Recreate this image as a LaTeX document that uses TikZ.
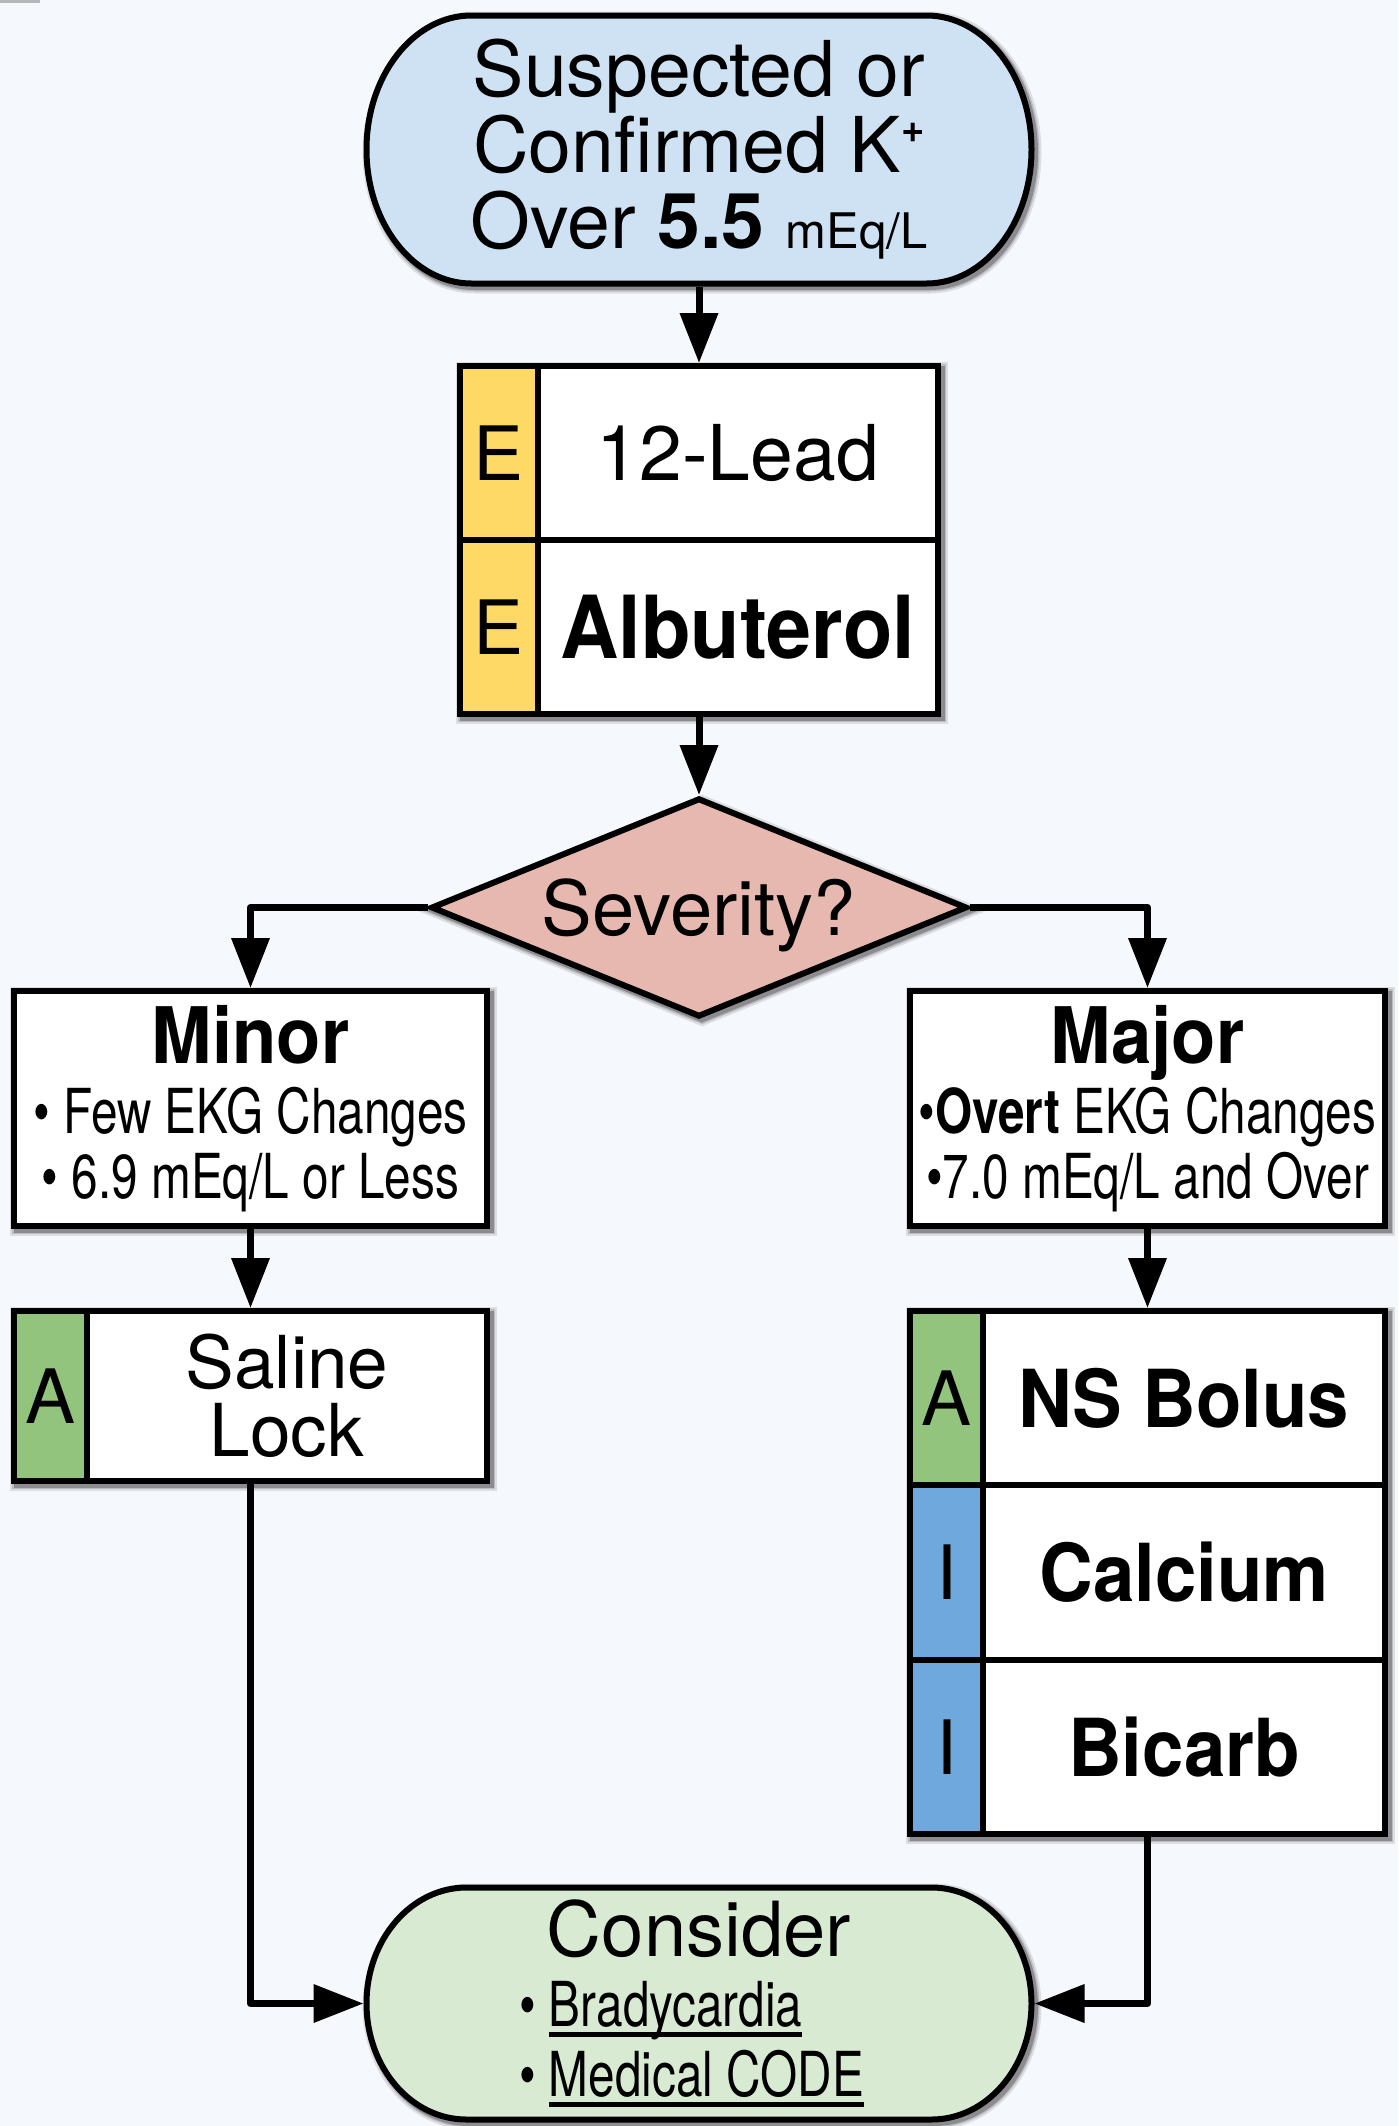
\documentclass[tikz,border=0pt]{standalone}
\usepackage{fontspec}
\setmainfont{TeX Gyre Heros}
\newfontfamily\condfont[FakeStretch=0.77]{TeX Gyre Heros}
\newfontfamily\semifont[FakeStretch=0.93]{TeX Gyre Heros}
\usetikzlibrary{shapes.geometric,arrows.meta,calc,shadows}

\definecolor{pagebg}{HTML}{F5F8FD}
\definecolor{startblue}{HTML}{CFE2F3}
\definecolor{tagyellow}{HTML}{FFD966}
\definecolor{tagblue}{HTML}{6FA8DC}
\definecolor{taggreen}{HTML}{93C47D}
\definecolor{decisionred}{HTML}{E6B8AF}
\definecolor{endgreen}{HTML}{D9EAD3}

% underline sitting just under the baseline
\newcommand\undl[1]{\setbox0\hbox{#1}\rlap{\rule[-11pt]{\wd0}{5pt}}\box0}
\newcommand\lst{\condfont\fontsize{62}{68}\selectfont}

\tikzset{
  softshadow/.style={
    general shadow={draw=black, line width=14pt, opacity=0.10, shadow xshift=3pt, shadow yshift=-3pt},
    general shadow={draw=black, line width=10pt, opacity=0.15, shadow xshift=3pt, shadow yshift=-3pt},
    general shadow={draw=black, line width=7pt, opacity=0.25, shadow xshift=3pt, shadow yshift=-3pt}},
  box/.style={draw, line width=6pt, inner sep=0pt, outer sep=3pt},
  tagcell/.style={box, minimum width=73pt, font=\fontsize{75}{75}\selectfont},
  txtcell/.style={box, minimum width=400pt},
  boldtxt/.style={font=\semifont\bfseries\fontsize{80}{80}\selectfont},
  link/.style={line width=7pt, line join=round, -{Triangle[length=50pt,width=37pt]}},
  termnode/.style={inner sep=0pt, outer sep=3pt, align=center},
  termline/.style={draw, line width=6pt, softshadow},
}

\begin{document}
\begin{tikzpicture}[x=1pt, y=-1pt]
\useasboundingbox (0,0) rectangle (1398,2126);
\fill[pagebg] (0,0) rectangle (1398,2126);
\fill[black!45, opacity=0.6] (0,0) rectangle (40,3);

% ---- start terminal: outline with elliptic ends, then its text node
\path[termline, fill=startblue]
  (471.5,15.5) -- (926.5,15.5)
  arc[start angle=90, end angle=-90, x radius=105pt, y radius=134pt]
  -- (471.5,283.5)
  arc[start angle=270, end angle=90, x radius=105pt, y radius=134pt] -- cycle;
\node[termnode, minimum width=665pt, minimum height=268pt,
      font=\fontsize{77}{76}\selectfont] (start) at (699,149.5)
  {Suspected or\\Confirmed K\raisebox{30pt}{\fontsize{40}{40}\selectfont\bfseries +}\\
   Over \textbf{5.5} {\fontsize{49}{49}\selectfont mEq/L}};

% ---- EMT block
\node[box, fill=white, softshadow, minimum width=478pt, minimum height=348pt] (ebox) at (699,540) {};
\node[tagcell, fill=tagyellow, minimum width=77.5pt, minimum height=174pt] (e1tag) at (498.75,453) {E};
\node[txtcell, minimum width=400.5pt, minimum height=174pt, font=\fontsize{77}{77}\selectfont] (e1txt) at (737.75,453) {12-Lead};
\node[tagcell, fill=tagyellow, minimum width=77.5pt, minimum height=174pt] (e2tag) at (498.75,627) {E};
\node[txtcell, minimum width=400.5pt, minimum height=174pt, font=\semifont\bfseries\fontsize{87}{87}\selectfont] (e2txt) at (737.75,627) {Albuterol};

% ---- decision
\node[diamond, draw, line width=6pt, fill=decisionred, softshadow, inner sep=0pt, outer sep=3pt,
      shape aspect=2.45, minimum width=536pt, minimum height=219pt, text depth=0pt,
      font=\fontsize{76}{76}\selectfont] (sev) at (699,907.5) {Severity?};

% ---- severity boxes
\node[box, fill=white, softshadow, minimum width=473pt, minimum height=235pt, align=center,
      font=\condfont\fontsize{62}{65}\selectfont] (minor) at (250.5,1108.5)
  {{\semifont\bfseries\fontsize{78}{65}\selectfont Minor}\\[5pt]
   • Few EKG Changes\\ • 6.9 mEq/L or Less};
\node[box, fill=white, softshadow, minimum width=475pt, minimum height=235pt, align=center,
      font=\condfont\fontsize{62}{65}\selectfont] (major) at (1147.5,1108.5)
  {{\semifont\bfseries\fontsize{78}{65}\selectfont Major}\\[5pt]
   •\textbf{Overt} EKG Changes\\ •7.0 mEq/L and Over};

% ---- minor treatment
\node[box, fill=white, softshadow, minimum width=473pt, minimum height=170pt] (saline) at (250.5,1396) {};
\node[tagcell, fill=taggreen, minimum height=170pt] (stag) at (50.5,1396) {A};
\node[txtcell, minimum height=170pt, align=center, font=\fontsize{73}{68}\selectfont] (stxt) at (287,1396) {Saline\\Lock};

% ---- major treatment
\node[box, fill=white, softshadow, minimum width=475pt, minimum height=523pt] (rstack) at (1147.5,1572.5) {};
\node[tagcell, fill=taggreen, minimum height=174pt] (r1tag) at (946.5,1398) {A};
\node[txtcell, minimum width=402pt, minimum height=174pt, boldtxt] (r1txt) at (1184,1398) {NS Bolus};
\node[tagcell, fill=tagblue, minimum height=175pt] (r2tag) at (946.5,1572.5) {I};
\node[txtcell, minimum width=402pt, minimum height=175pt, boldtxt] (r2txt) at (1184,1572.5) {Calcium};
\node[tagcell, fill=tagblue, minimum height=174pt] (r3tag) at (946.5,1747) {I};
\node[txtcell, minimum width=402pt, minimum height=174pt, boldtxt] (r3txt) at (1184,1747) {Bicarb};

% ---- end terminal
\path[termline, fill=endgreen]
  (466.5,1887.5) -- (931.5,1887.5)
  arc[start angle=90, end angle=-90, x radius=100pt, y radius=116pt]
  -- (466.5,2119.5)
  arc[start angle=270, end angle=90, x radius=100pt, y radius=116pt] -- cycle;
\node[termnode, minimum width=665pt, minimum height=232pt,
      font=\fontsize{76}{70}\selectfont] (cons) at (699,2003.5)
  {Consider\\
   {\lst\makebox[360pt][l]{• \undl{Bradycardia}}}\\
   {\lst\makebox[360pt][l]{• \undl{Medical CODE}}}};

% ---- connectors
\draw[link] (start.south) -- (ebox.north);
\draw[link] (ebox.south) -- (sev.north);
\draw[link] (sev.west) -| (minor.north);
\draw[link] (sev.east) -| (major.north);
\draw[link] (minor.south) -- (saline.north);
\draw[link] (major.south) -- (rstack.north);
\draw[link] (saline.south) |- (cons.west);
\draw[link] (rstack.south) |- (cons.east);
\end{tikzpicture}
\end{document}
